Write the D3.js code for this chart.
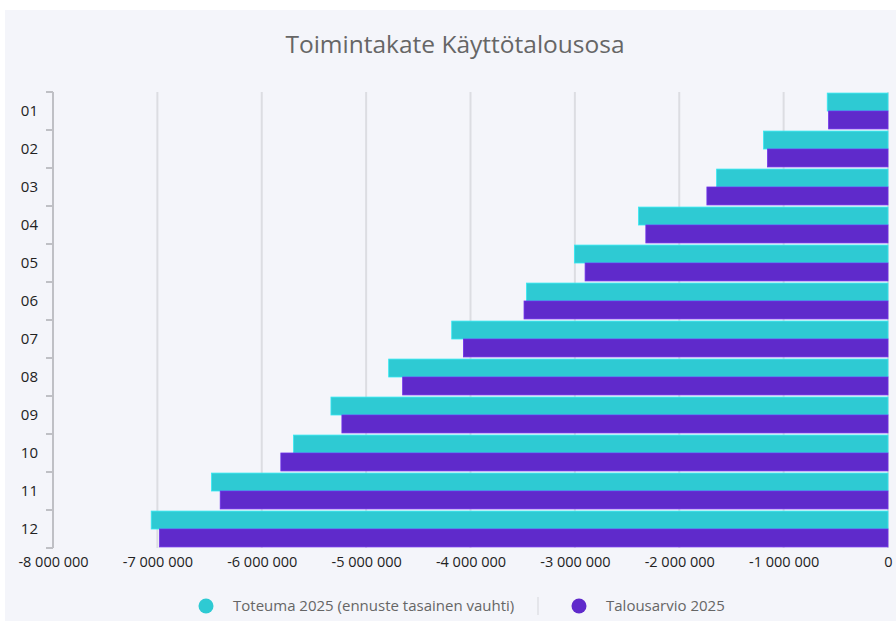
<!DOCTYPE html>
<html>
<head>
<meta charset="utf-8">
<script src="https://cdn.jsdelivr.net/npm/d3@7"></script>
<style>
  body { margin: 0; background: #ffffff; }
  svg { display: block; font-family: "Open Sans", "Noto Sans", sans-serif; }
</style>
</head>
<body>
<svg id="chart" width="896" height="626"></svg>
<script>
var months = ["01", "02", "03", "04", "05", "06", "07", "08", "09", "10", "11", "12"];
var toteuma = [-582000, -1192000, -1642000, -2390000, -3004000, -3464000, -4180000, -4784000, -5337000, -5695000, -6481000, -7059000];
var talousarvio = [-569000, -1154000, -1735000, -2320000, -2902000, -3487000, -4068000, -4650000, -5232000, -5817000, -6398000, -6980000];
var xTicks = [-8000000, -7000000, -6000000, -5000000, -4000000, -3000000, -2000000, -1000000, 0];
var seriesNames = ["Toteuma 2025 (ennuste tasainen vauhti)", "Talousarvio 2025"];
var seriesColors = ["#2ecad3", "#5f2acb"];

var svg = d3.select("#chart");

// card background
svg.append("rect")
    .attr("x", 5).attr("y", 10)
    .attr("width", 891).attr("height", 611)
    .attr("fill", "#f4f5fa");

svg.append("text")
    .attr("x", 455).attr("y", 53)
    .attr("text-anchor", "middle")
    .attr("font-size", 24.5)
    .attr("fill", "#666")
    .text("Toimintakate Käyttötalousosa");

var margin = {left: 53, right: 8, top: 92, bottom: 78};
var width = 896 - margin.left - margin.right;
var height = 626 - margin.top - margin.bottom;

var main = svg.append("g")
    .attr("transform", "translate(" + margin.left + "," + margin.top + ")");

var xScale = d3.scaleLinear().domain([-8000000, 0]).range([0, width]);
var yScale = d3.scaleBand().domain(months).range([0, height]);
var inner = d3.scaleBand().domain([0, 1]).range([0, yScale.bandwidth()]).paddingOuter(0.06);

var fiLocale = d3.formatLocale({decimal: ",", thousands: " ", grouping: [3], currency: ["", " €"], minus: "-"});
var fmt = fiLocale.format(",d");

// gridlines
main.append("g")
    .selectAll("line")
    .data(xTicks)
    .enter().append("line")
    .attr("x1", function (d) { return xScale(d); })
    .attr("x2", function (d) { return xScale(d); })
    .attr("y1", 0)
    .attr("y2", height)
    .attr("stroke", "#dcdde2")
    .attr("stroke-width", 2);

// x axis labels only
var xAxis = d3.axisBottom(xScale).tickValues(xTicks).tickFormat(fmt).tickSize(0).tickPadding(9);
var xg = main.append("g")
    .attr("transform", "translate(0," + height + ")")
    .call(xAxis);
xg.select(".domain").remove();
xg.selectAll("text").attr("font-size", 14.5).attr("fill", "#222").attr("font-family", "Open Sans, Noto Sans, sans-serif");

// bars
var groups = main.append("g")
    .selectAll("g")
    .data(months)
    .enter().append("g")
    .attr("transform", function (d) { return "translate(0," + yScale(d) + ")"; });

groups.selectAll("rect")
    .data(function (d, i) { return [toteuma[i], talousarvio[i]]; })
    .enter().append("rect")
    .attr("x", function (d) { return xScale(d); })
    .attr("y", function (d, j) { return inner(j); })
    .attr("width", function (d) { return xScale(0) - xScale(d); })
    .attr("height", inner.bandwidth())
    .attr("fill", function (d, j) { return seriesColors[j]; })
    .attr("stroke", function (d, j) { return d3.color(seriesColors[j]).brighter(0.4); })
    .attr("stroke-width", 0.8);

// y axis with ticks between bands
var yg = main.append("g");
yg.append("line")
    .attr("x1", 0).attr("x2", 0)
    .attr("y1", 0).attr("y2", height)
    .attr("stroke", "#bfc0c5").attr("stroke-width", 2);
var boundaries = months.map(function (m) { return yScale(m); }).concat([height]);
yg.selectAll(".tk")
    .data(boundaries)
    .enter().append("line")
    .attr("class", "tk")
    .attr("x1", -7).attr("x2", 0)
    .attr("y1", function (d) { return d; })
    .attr("y2", function (d) { return d; })
    .attr("stroke", "#bfc0c5").attr("stroke-width", 2);
yg.selectAll("text")
    .data(months)
    .enter().append("text")
    .attr("x", -15)
    .attr("y", function (d) { return yScale(d) + yScale.bandwidth() / 2; })
    .attr("dy", "0.35em")
    .attr("text-anchor", "end")
    .attr("font-size", 15)
    .attr("fill", "#222")
    .text(function (d) { return d; });

// legend
var legend = svg.append("g").attr("transform", "translate(0,606)");
var legendX = [206, 579];
seriesNames.forEach(function (name, i) {
    legend.append("circle")
        .attr("cx", legendX[i]).attr("cy", 0).attr("r", 7.5)
        .attr("fill", seriesColors[i]);
    legend.append("text")
        .attr("x", legendX[i] + 27).attr("y", 0)
        .attr("dy", "0.35em")
        .attr("font-size", 15)
        .attr("fill", "#666")
        .text(name);
});
legend.append("line")
    .attr("x1", 538).attr("x2", 538)
    .attr("y1", -9).attr("y2", 9)
    .attr("stroke", "#d5d6db").attr("stroke-width", 1);
</script>
</body>
</html>
